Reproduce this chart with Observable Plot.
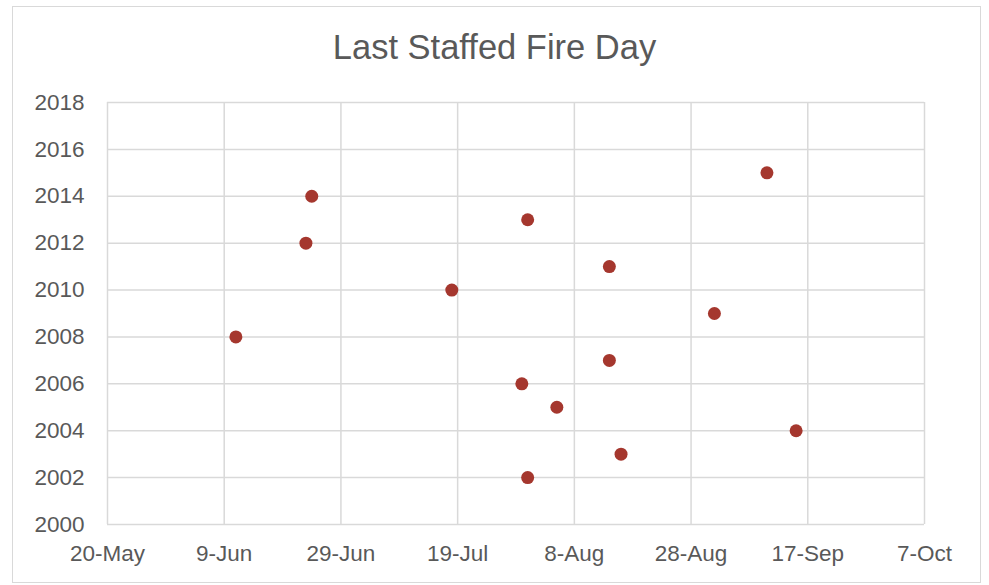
<!DOCTYPE html>
<html>
<head>
<meta charset="utf-8">
<script src="https://cdn.jsdelivr.net/npm/d3@7"></script>
<script src="https://cdn.jsdelivr.net/npm/@observablehq/plot@0.6"></script>
<style>
  html, body { margin: 0; padding: 0; background: #fff; }
  #wrap { position: relative; width: 989px; height: 585px; overflow: hidden; }
  #frame { position: absolute; left: 12px; top: 6px; width: 967px; height: 575px; border: 1.5px solid #d9d9d9; box-sizing: content-box; }
  #title { position: absolute; left: 0; width: 989px; top: 26px; text-align: center; font-family: "Liberation Sans", Arial, sans-serif; font-size: 34.5px; color: #595959; line-height: 42px; }
  #chart { position: absolute; left: 0; top: 0; }
</style>
</head>
<body>
<div id="wrap">
  <div id="frame"></div>
  <div id="chart"></div>
  <div id="title">Last Staffed Fire Day</div>
</div>
<script>
const years = [2002, 2003, 2004, 2005, 2006, 2007, 2008, 2009, 2010, 2011, 2012, 2013, 2014, 2015];
const days  = ["07-31", "08-16", "09-15", "08-05", "07-30", "08-14", "06-11", "09-01", "07-18", "08-14", "06-23", "07-31", "06-24", "09-10"];
const xTicks = ["05-20", "06-09", "06-29", "07-19", "08-08", "08-28", "09-17", "10-07"];
const yTicks = [2000, 2002, 2004, 2006, 2008, 2010, 2012, 2014, 2016, 2018];

const toDate = s => new Date(`2001-${s}T00:00:00Z`);
const data = years.map((y, i) => ({year: y, day: toDate(days[i])}));
const xt = xTicks.map(toDate);

const chart = Plot.plot({
  width: 989,
  height: 585,
  marginLeft: 107,
  marginRight: 65,
  marginTop: 102,
  marginBottom: 61,
  style: {fontFamily: "Liberation Sans, Arial, sans-serif", fontSize: "22.5px", color: "#595959", background: "transparent"},
  x: {type: "utc", domain: [xt[0], xt[xt.length - 1]], ticks: xt, tickFormat: d3.utcFormat("%-d-%b")},
  y: {domain: [2000, 2018], ticks: yTicks, tickFormat: d => String(d)},
  marks: [
    Plot.gridX(xt, {stroke: "#d9d9d9", strokeOpacity: 1, strokeWidth: 1.5}),
    Plot.gridY(yTicks, {stroke: "#d9d9d9", strokeOpacity: 1, strokeWidth: 1.5}),
    Plot.axisX(xt, {tickSize: 0, tickPadding: 21, label: null, fill: "#595959", tickFormat: d3.utcFormat("%-d-%b")}),
    Plot.axisY(yTicks, {tickSize: 0, tickPadding: 23, label: null, fill: "#595959", tickFormat: d => String(d)}),
    Plot.dot(data, {x: "day", y: "year", r: 6.5, fill: "#a5372e", stroke: "none"})
  ]
});
document.getElementById("chart").appendChild(chart);
</script>
</body>
</html>
